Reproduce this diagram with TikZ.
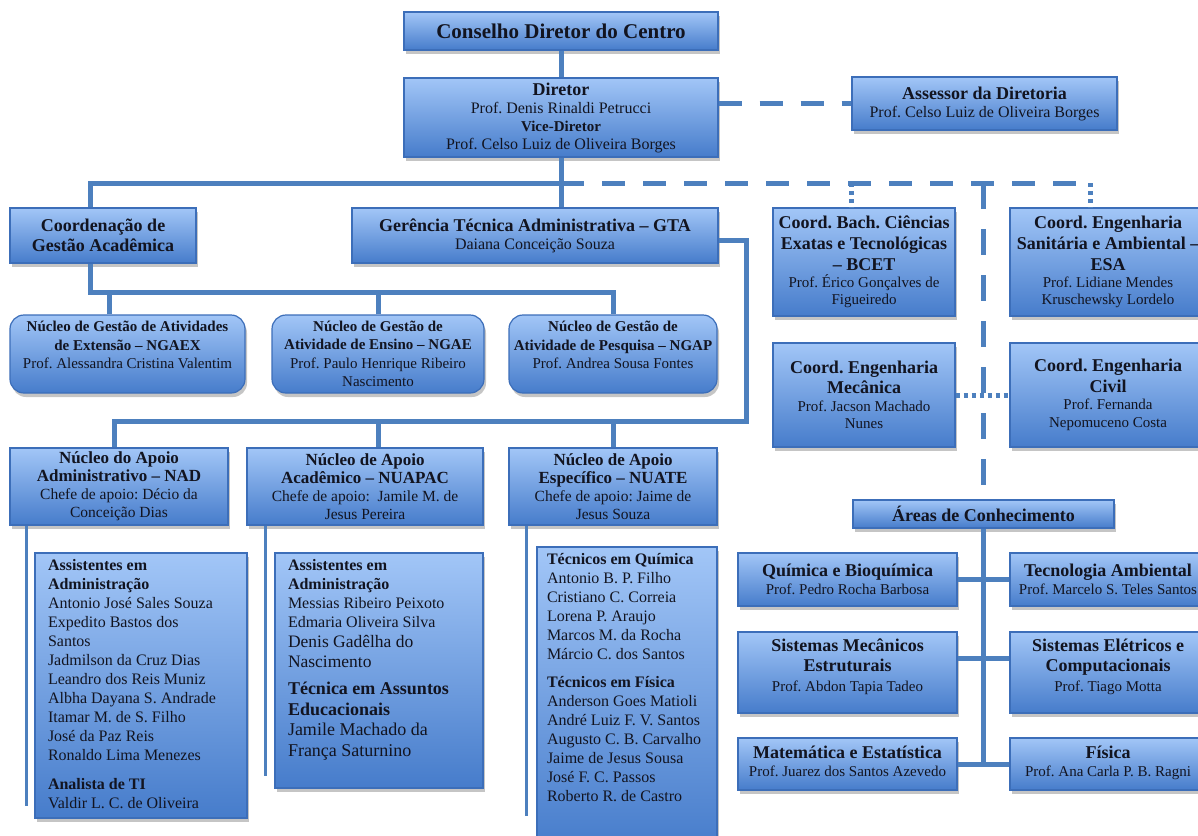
\documentclass[tikz,border=0pt]{standalone}
\usepackage{fontspec}
\setmainfont{Liberation Serif}
\usepackage{tikz}
\usetikzlibrary{shadows}
\frenchspacing

\definecolor{boxtop}{RGB}{162,198,247}
\definecolor{boxbot}{RGB}{70,124,203}
\definecolor{boxedge}{RGB}{60,110,185}
\definecolor{wire}{RGB}{77,128,190}
\definecolor{ink}{RGB}{18,20,32}

\newcommand\hd[1]{{\bfseries\fontsize{18}{21}\selectfont #1}}
\newcommand\botpad[1]{\rule[-#1]{0pt}{#1}}

\begin{document}
\begin{tikzpicture}[x=1pt,y=-1pt]
\tikzset{
	unit/.style = {draw=boxedge, line width=1.2pt, top color=boxtop, bottom color=boxbot, text=ink, align=center, inner sep=3pt,
		drop shadow={shadow xshift=2pt, shadow yshift=-4pt, opacity=.45}, font=\fontsize{16}{18}\selectfont},
	nucleo/.style = {unit, rounded corners=14pt, font=\fontsize{15}{18.5}\selectfont},
	apoio/.style = {unit, font=\fontsize{15.5}{18}\selectfont},
	area/.style = {unit, font=\fontsize{15}{18}\selectfont},
	roster/.style = {unit, align=left, inner xsep=13pt, inner ysep=6pt},
	link/.style = {draw=wire, line width=5pt},
	stub/.style = {draw=wire, line width=3pt},
	staff/.style = {draw=wire, line width=5pt, dash pattern=on 23pt off 18pt},
	staffv/.style = {draw=wire, line width=5pt, dash pattern=on 26pt off 20pt},
	dotlink/.style = {draw=wire, line width=5pt, dash pattern=on 4pt off 4pt}
}

\useasboundingbox (0,0) rectangle (1198,835);
\clip (0,0) rectangle (1198,835);
\fill[white] (0,0) rectangle (1198,835);

% direction
\node (conselho) [unit, minimum width=314pt, minimum height=38pt, font=\bfseries\fontsize{21}{24}\selectfont] at (561,31) {Conselho Diretor do Centro};
\node (diretor) [unit, minimum width=314pt, minimum height=79pt] at (561,117.5)
	{\hd{Diretor}\\Prof. Denis Rinaldi Petrucci\\{\bfseries\fontsize{15}{17}\selectfont Vice-Diretor}\\Prof. Celso Luiz de Oliveira Borges};
\node (assessor) [unit, minimum width=265pt, minimum height=53pt] at (984.5,103.5)
	{\hd{Assessor da Diretoria}\\Prof. Celso Luiz de Oliveira Borges};

\node (coordga) [unit, minimum width=186pt, minimum height=55pt, font=\bfseries\fontsize{18}{20}\selectfont] at (103,235.5)
	{Coordenação de\\Gestão Acadêmica};
\node (gta) [unit, minimum width=366pt, minimum height=55pt] at (535,235.5)
	{\hd{Gerência Técnica Administrativa – GTA}\\Daiana Conceição Souza};

% coordinations
\node (bcet) [unit, minimum width=182pt, minimum height=108pt, font=\fontsize{15}{17}\selectfont] at (864,262)
	{\hd{Coord. Bach. Ciências}\\[4pt]\hd{Exatas e Tecnológicas}\\[4pt]\hd{– BCET}\\Prof. Érico Gonçalves de\\Figueiredo};
\node (esa) [unit, minimum width=196pt, minimum height=108pt, font=\fontsize{15}{17}\selectfont] at (1108,262)
	{\hd{Coord. Engenharia}\\[4pt]\hd{Sanitária e Ambiental –}\\[4pt]\hd{ESA}\\Prof. Lidiane Mendes\\Kruschewsky Lordelo};
\node (mecanica) [unit, minimum width=182pt, minimum height=104pt, font=\fontsize{15}{17.5}\selectfont] at (864,395)
	{\hd{Coord. Engenharia}\\[3pt]\hd{Mecânica}\\Prof. Jacson Machado\\Nunes};
\node (civil) [unit, minimum width=196pt, minimum height=104pt, font=\fontsize{15}{17.5}\selectfont] at (1108,395)
	{\hd{Coord. Engenharia}\\[3pt]\hd{Civil}\\Prof. Fernanda\\Nepomuceno Costa};

% nucleos de gestao
\node (ngaex) [nucleo, minimum width=235pt, minimum height=78pt] at (127.5,354)
	{\textbf{Núcleo de Gestão de Atividades}\\\textbf{de Extensão – NGAEX}\\Prof. Alessandra Cristina Valentim\botpad{18pt}};
\node (ngae) [nucleo, minimum width=212pt, minimum height=78pt] at (378,354)
	{\textbf{Núcleo de Gestão de}\\\textbf{Atividade de Ensino – NGAE}\\Prof. Paulo Henrique Ribeiro\\Nascimento};
\node (ngap) [nucleo, minimum width=208pt, minimum height=78pt] at (613,354)
	{\textbf{Núcleo de Gestão de}\\\textbf{Atividade de Pesquisa – NGAP}\\Prof. Andrea Sousa Fontes\botpad{18pt}};

% nucleos de apoio
\node (nad) [apoio, minimum width=218pt, minimum height=77pt] at (119,486.5)
	{{\bfseries\fontsize{17}{19}\selectfont Núcleo do Apoio}\\{\bfseries\fontsize{17}{19}\selectfont Administrativo – NAD}\\Chefe de apoio: Décio da\\Conceição Dias};
\node (nuapac) [apoio, minimum width=236pt, minimum height=77pt] at (365,486.5)
	{{\bfseries\fontsize{17}{19}\selectfont Núcleo de Apoio}\\{\bfseries\fontsize{17}{19}\selectfont Acadêmico – NUAPAC}\\Chefe de apoio:~~Jamile M. de\\Jesus Pereira};
\node (nuate) [apoio, minimum width=208pt, minimum height=77pt] at (613,486.5)
	{{\bfseries\fontsize{17}{19}\selectfont Núcleo de Apoio}\\{\bfseries\fontsize{17}{19}\selectfont Específico – NUATE}\\Chefe de apoio: Jaime de\\Jesus Souza};

\node (nadlist) [roster] at (141,685.5) {\parbox[c][253pt][t]{186pt}{\raggedright\fontsize{16}{19}\selectfont
	\textbf{Assistentes em}\\\textbf{Administração}\\Antonio José Sales Souza\\Expedito Bastos dos\\Santos\\Jadmilson da Cruz Dias\\
	Leandro dos Reis Muniz\\Albha Dayana S. Andrade\\Itamar M. de S. Filho\\José da Paz Reis\\Ronaldo Lima Menezes\\[10pt]
	\textbf{Analista de TI}\\Valdir L. C. de Oliveira}};
\node (nuapaclist) [roster] at (379,670.5) {\parbox[c][223pt][t]{182pt}{\raggedright\fontsize{16}{19}\selectfont
	\textbf{Assistentes em}\\\textbf{Administração}\\Messias Ribeiro Peixoto\\Edmaria Oliveira Silva\\
	\fontsize{17.5}{20}\selectfont Denis Gadêlha do\\Nascimento\\[7pt]
	\fontsize{18}{20.5}\selectfont\textbf{Técnica em Assuntos}\\\textbf{Educacionais}\\Jamile Machado da\\França Saturnino}};
\node (nuatelist) [roster, inner xsep=10pt] at (627,698.5) {\parbox[c][291pt][t]{160pt}{\raggedright\fontsize{16}{19}\selectfont
	\textbf{Técnicos em Química}\\Antonio B. P. Filho\\Cristiano C. Correia\\Lorena P. Araujo\\Marcos M. da Rocha\\Márcio C. dos Santos\\[9pt]
	\textbf{Técnicos em Física}\\Anderson Goes Matioli\\André Luiz F. V. Santos\\Augusto C. B. Carvalho\\Jaime de Jesus Sousa\\
	José F. C. Passos\\Roberto R. de Castro}};

% areas de conhecimento
\node (areas) [unit, minimum width=261pt, minimum height=28pt, font=\bfseries\fontsize{18}{20}\selectfont] at (983.5,514) {Áreas de Conhecimento};
\node (quimica) [area, minimum width=219pt, minimum height=53pt] at (847.5,579.5)
	{\hd{Química e Bioquímica}\\Prof. Pedro Rocha Barbosa};
\node (tecamb) [area, minimum width=196pt, minimum height=53pt] at (1108,579.5)
	{\hd{Tecnologia Ambiental}\\Prof. Marcelo S. Teles Santos};
\node (sistmec) [area, minimum width=219pt, minimum height=81pt] at (847.5,672.5)
	{\hd{Sistemas Mecânicos}\\[2pt]\hd{Estruturais}\\[2pt]Prof. Abdon Tapia Tadeo\botpad{14pt}};
\node (sisteletr) [area, minimum width=196pt, minimum height=81pt] at (1108,672.5)
	{\hd{Sistemas Elétricos e}\\[2pt]\hd{Computacionais}\\[2pt]Prof. Tiago Motta\botpad{14pt}};
\node (matest) [area, minimum width=219pt, minimum height=52pt] at (847.5,764)
	{\hd{Matemática e Estatística}\\Prof. Juarez dos Santos Azevedo\botpad{6pt}};
\node (fisica) [area, minimum width=196pt, minimum height=52pt] at (1108,764)
	{\hd{Física}\\Prof. Ana Carla P. B. Ragni\botpad{6pt}};

\coordinate (hub) at (561,183);
\coordinate (ebus) at (1090,183);
\coordinate (gbus) at (0,292);
\coordinate (abus) at (746,421);

\draw[link] (conselho) -- (diretor);
\draw[staff] (diretor.east |- assessor.west) -- (assessor.west);
\draw[link] (diretor.south) -- (diretor.south |- gta.north);
\draw[link] (hub) -| ([xshift=-13pt]coordga.north);
\draw[staff] (hub) -- (ebus);
\draw[dotlink] (ebus) -- (ebus |- esa.north);
\draw[dotlink] ([xshift=-13pt]bcet.north |- hub) -- ([xshift=-13pt]bcet.north);
\draw[staffv] (areas.north |- hub) -- (areas.north);
\draw[dotlink] (mecanica.east) -- (civil.west);

\draw[link] ([xshift=-13pt]coordga.south) |- (ngap.north |- gbus) -- (ngap.north);
\draw[link] ([xshift=-18pt]ngaex.north) -- ([xshift=-18pt]ngaex.north |- gbus);
\draw[link] (ngae.north) -- (ngae.north |- gbus);

\draw[link] ([yshift=-5pt]gta.east) -| (abus) -| ([xshift=-5pt]nad.north);
\draw[link] ([xshift=13pt]nuapac.north) -- ([xshift=13pt]nuapac.north |- abus);
\draw[link] (nuate.north) -- (nuate.north |- abus);
\draw[stub] ([xshift=17pt]nad.south west) -- ++(0,280);
\draw[stub] ([xshift=19pt]nuapac.south west) -- ++(0,250);
\draw[stub] ([xshift=18pt]nuate.south west) -- ++(0,290);

\draw[link] (areas.south) -- (areas.south |- matest.east);
\draw[link] (quimica.east) -- (tecamb.west);
\draw[link] ([yshift=14pt]sistmec.east) -- ([yshift=14pt]sisteletr.west);
\draw[link] (matest.east) -- (fisica.west);

\end{tikzpicture}
\end{document}
